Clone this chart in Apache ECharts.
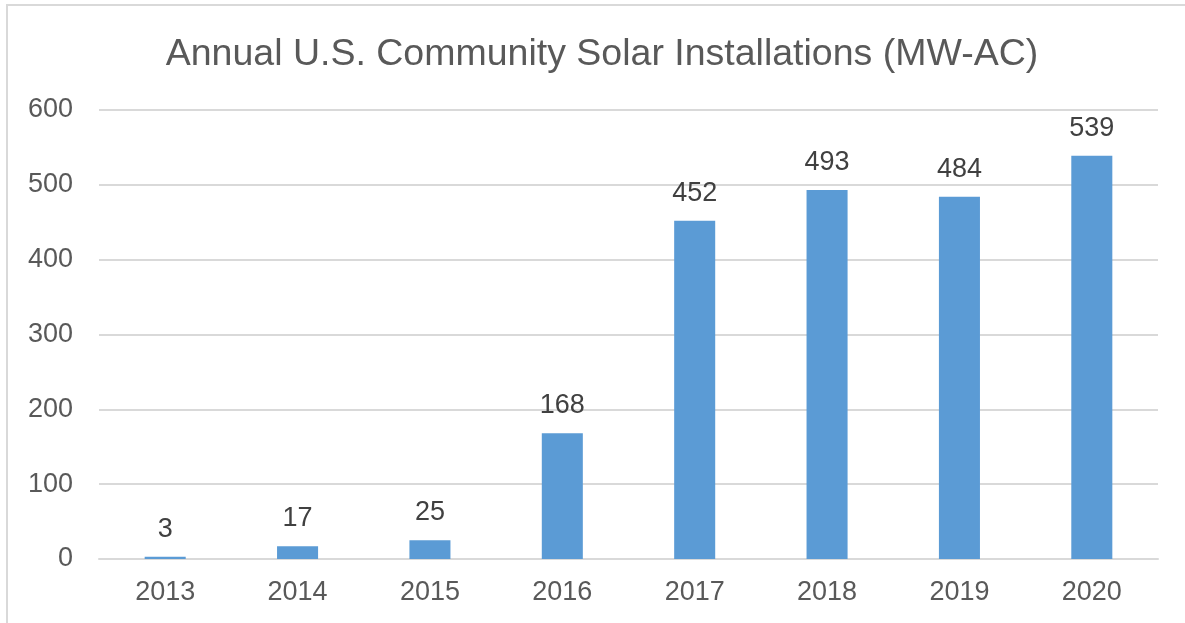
<!DOCTYPE html>
<html><head><meta charset="utf-8">
<script src="https://cdn.jsdelivr.net/npm/echarts@6/dist/echarts.min.js"></script>
<style>html,body{margin:0;padding:0;background:#fff}#c{width:1185px;height:623px}</style>
</head><body><div id="c"></div>
<script>
const titleText = 'Annual U.S. Community Solar Installations (MW-AC)';
const categories = ['2013','2014','2015','2016','2017','2018','2019','2020'];
const values = [3, 17, 25, 168, 452, 493, 484, 539];
const yTicks = {min: 0, max: 600, interval: 100};

const FONT = 'Liberation Sans, Arial, sans-serif';
const chart = echarts.init(document.getElementById('c'), null, {renderer: 'canvas'});
chart.setOption({
  animation: false,
  backgroundColor: '#fff',
  graphic: [{type: 'rect', shape: {x: 7, y: 5, width: 1300, height: 800}, style: {fill: 'none', stroke: '#d9d9d9', lineWidth: 2}, silent: true, z: -1}],
  title: {text: titleText, left: 597, top: 31, textAlign: 'center',
    textStyle: {fontFamily: FONT, fontSize: 37.5, fontWeight: 'normal', color: '#595959'}},
  grid: {left: 99, right: 27, top: 110, bottom: 64},
  xAxis: {type: 'category', data: categories,
    axisLine: {lineStyle: {color: '#d9d9d9', width: 2}}, axisTick: {show: false},
    axisLabel: {fontFamily: FONT, fontSize: 27, color: '#595959', margin: 20}},
  yAxis: {type: 'value', min: yTicks.min, max: yTicks.max, interval: yTicks.interval,
    axisLine: {show: false}, axisTick: {show: false},
    splitLine: {lineStyle: {color: '#d9d9d9', width: 2}},
    axisLabel: {fontFamily: FONT, fontSize: 27, color: '#595959', margin: 26}},
  series: [{type: 'bar', data: values, barWidth: '31%', itemStyle: {color: '#5b9bd5'},
    label: {show: true, position: 'top', distance: 14, fontFamily: FONT, fontSize: 27, color: '#404040'}}]
});
</script></body></html>
